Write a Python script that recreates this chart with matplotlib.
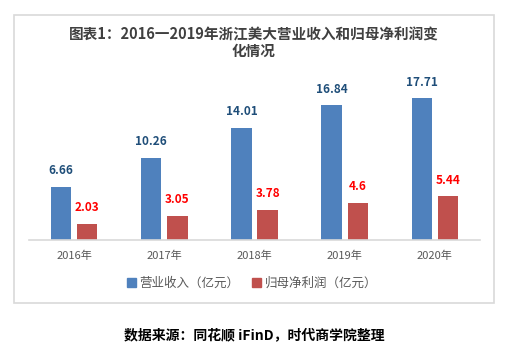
import numpy as np
import matplotlib.pyplot as plt
from matplotlib.patches import Rectangle, Patch

plt.rcParams['font.family'] = ['Noto Sans CJK SC', 'DejaVu Sans']

# data
years = ['2016年', '2017年', '2018年', '2019年', '2020年']
revenue = [6.66, 10.26, 14.01, 16.84, 17.71]
profit = [2.03, 3.05, 3.78, 4.6, 5.44]
revenue_labels = ['6.66', '10.26', '14.01', '16.84', '17.71']
profit_labels = ['2.03', '3.05', '3.78', '4.6', '5.44']

blue = '#4F81BD'
red = '#C0504D'
grey = '#D9D9D9'

W, H = 508, 354
fig = plt.figure(figsize=(W / 100, H / 100), dpi=100)
fig.patch.set_facecolor('white')

# outer frame of the chart
fig.add_artist(Rectangle((14 / W, 1 - 303 / H), 480 / W, 288 / H,
                         transform=fig.transFigure, fill=False,
                         edgecolor=grey, lw=1.2))

ax = fig.add_axes([29 / W, 1 - 240 / H, 451 / W, 160 / H])
x = np.arange(len(years))
bw = 0.225
off = 0.145
ax.bar(x - off, revenue, bw, color=blue)
ax.bar(x + off, profit, bw, color=red)

for i in range(len(years)):
    ax.annotate(revenue_labels[i], (x[i] - off, revenue[i]), xytext=(0, 7),
                textcoords='offset points', ha='center', va='bottom',
                fontsize=8.5, fontweight='bold', color='#1F4E79')
    ax.annotate(profit_labels[i], (x[i] + off, profit[i]), xytext=(0, 7),
                textcoords='offset points', ha='center', va='bottom',
                fontsize=8.5, fontweight='bold', color='#FF0000')

ax.set_xlim(-0.5, 4.5)
ax.set_ylim(0, 20)
ax.set_xticks(x)
ax.set_xticklabels(years, fontsize=8, color='#595959')
ax.tick_params(axis='x', length=0, pad=8)
ax.set_yticks([])
for s in ['top', 'right', 'left']:
    ax.spines[s].set_visible(False)
ax.spines['bottom'].set_color(grey)
ax.spines['bottom'].set_linewidth(1.2)

handles = [Patch(color=blue, label='营业收入（亿元）'),
           Patch(color=red, label='归母净利润（亿元）')]
fig.legend(handles=handles, loc='center', bbox_to_anchor=(252 / W, 1 - 283 / H),
           ncol=2, frameon=False, fontsize=9, handlelength=0.7,
           handleheight=0.7, handletextpad=0.3, columnspacing=1.0,
           labelcolor='#595959')

fig.text(254 / W, 1 - 34 / H, '图表1：2016一2019年浙江美大营业收入和归母净利润变',
         ha='center', va='center', fontsize=10.5, fontweight='bold', color='#404040')
fig.text(254 / W, 1 - 51 / H, '化情况',
         ha='center', va='center', fontsize=10.5, fontweight='bold', color='#404040')

fig.text(254 / W, 1 - 335 / H, '数据来源：同花顺 iFinD，时代商学院整理',
         ha='center', va='center', fontsize=10, fontweight='bold', color='black')

fig.savefig('out.png', dpi=100)
